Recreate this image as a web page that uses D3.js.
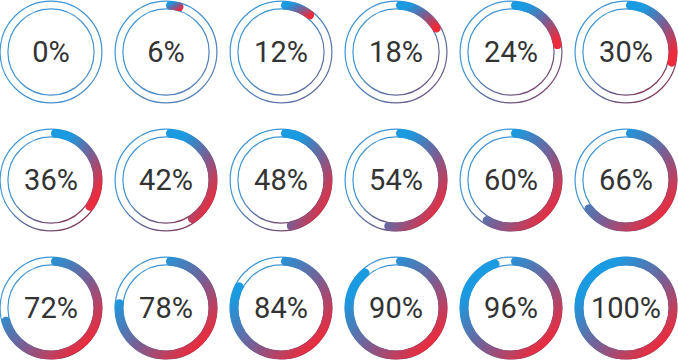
<!doctype html>
<html>
  <head>
    <script src="https://cdnjs.cloudflare.com/ajax/libs/d3/7.8.5/d3.min.js"></script>
    <style>
      body { margin: 0; background: #fff; }
      text.pct {
        font-family: Roboto, "Open Sans", sans-serif;
        font-size: 29px;
        text-anchor: middle;
        fill: #333;
      }
    </style>
  </head>
  <body>
    <svg id="chart" width="678" height="360"></svg>
    <script>
      var percents = [0, 6, 12, 18, 24, 30, 36, 42, 48, 54, 60, 66, 72, 78, 84, 90, 96, 100];
      var columns = [0, 1, 2, 3, 4, 5];
      var rows = [0, 1, 2];

      var blue = "#1a9ae0", red = "#ec2b3c";

      var svg = d3.select("#chart");
      var defs = svg.append("defs");

      var x = d3.scalePoint().domain(columns).range([51, 626]);
      var y = d3.scalePoint().domain(rows).range([52, 308]);
      var value = d3.scaleLinear().domain([0, 100]).range([0, 2 * Math.PI]);

      var rOut = 51.5, rIn = 42.5;

      var arc = d3.arc()
        .innerRadius(rIn + 0.2)
        .outerRadius(rOut - 0.2)
        .startAngle(0)
        .cornerRadius(4.5);

      // arc fill: blue top-left -> red bottom-right of the arc's own box
      var g = defs.append("linearGradient")
        .attr("id", "arcGrad")
        .attr("x1", 0).attr("y1", 0).attr("x2", 1).attr("y2", 1);
      g.append("stop").attr("offset", "0.22").attr("stop-color", blue);
      g.append("stop").attr("offset", "0.55").attr("stop-color", "#7b5d92");
      g.append("stop").attr("offset", "0.85").attr("stop-color", red);

      var cells = svg.selectAll("g.cell")
        .data(percents)
        .enter()
        .append("g")
          .attr("class", "cell")
          .attr("transform", (d, i) => `translate(${x(i % 6)},${y(Math.floor(i / 6))})`);

      // thin guide rings, tinted towards red as the value grows
      cells.each(function(d, i) {
        var end = d3.interpolateRgb("#4a8fcc", "#8a2f4e")(Math.min(1, d / 30));
        var rg = defs.append("linearGradient")
          .attr("id", "ring" + i)
          .attr("x1", 0.1).attr("y1", 0.1).attr("x2", 0.9).attr("y2", 0.9);
        rg.append("stop").attr("offset", "0.3").attr("stop-color", "#3f95d4");
        rg.append("stop").attr("offset", "1").attr("stop-color", end);

        var cell = d3.select(this);
        [rOut - 0.6, rIn + 0.6].forEach(r => {
          cell.append("circle")
            .attr("r", r)
            .attr("fill", "none")
            .attr("stroke", `url(#ring${i})`)
            .attr("stroke-width", 1.2);
        });
      });

      cells.filter(d => d > 0)
        .append("path")
          .attr("d", d => arc({ endAngle: value(d) }))
          .attr("fill", "url(#arcGrad)");

      cells.append("text")
        .attr("class", "pct")
        .attr("dy", "0.36em")
        .text(d => d + "%");
    </script>
  </body>
</html>
